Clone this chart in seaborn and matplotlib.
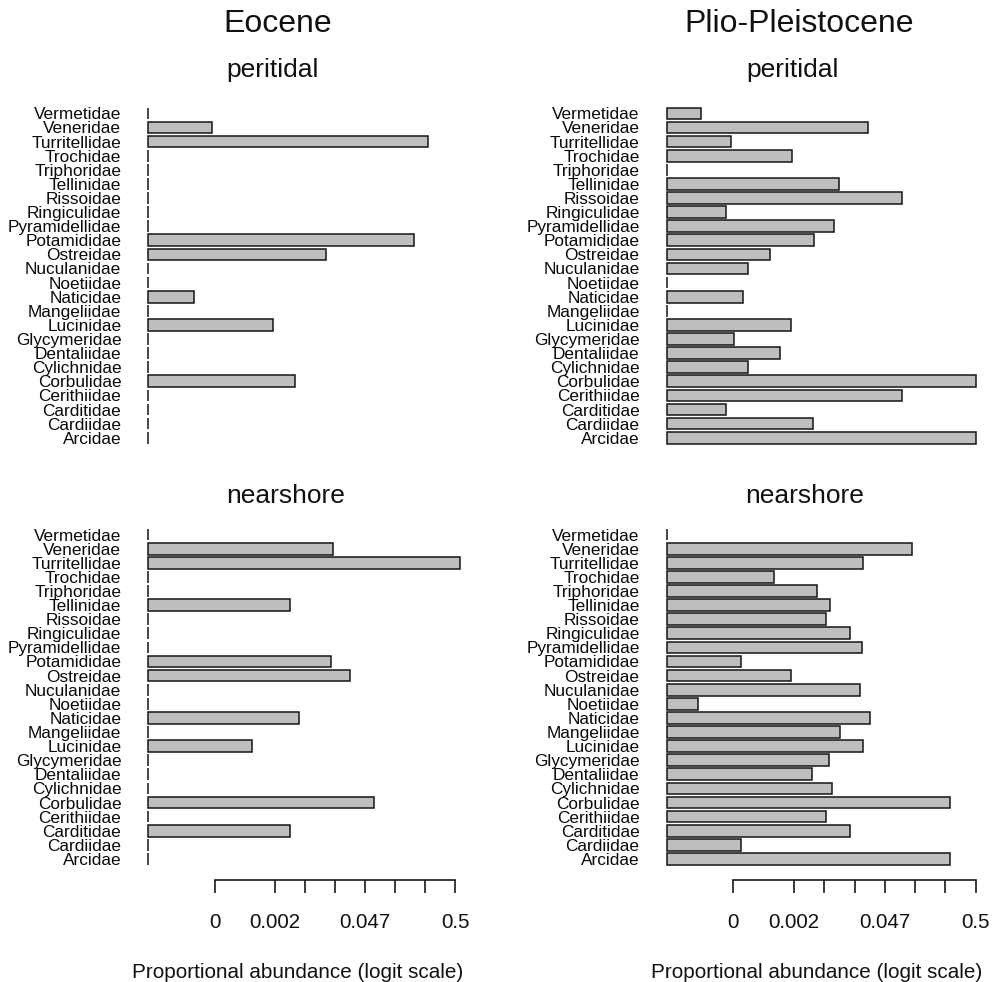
import numpy as np
import matplotlib.pyplot as plt
import seaborn as sns

# --- data: logit(proportional abundance), None = family absent ---
families = ['Vermetidae', 'Veneridae', 'Turritellidae', 'Trochidae', 'Triphoridae',
            'Tellinidae', 'Rissoidae', 'Ringiculidae', 'Pyramidellidae', 'Potamididae',
            'Ostreidae', 'Nuculanidae', 'Noetiidae', 'Naticidae', 'Mangeliidae',
            'Lucinidae', 'Glycymeridae', 'Dentaliidae', 'Cylichnidae', 'Corbulidae',
            'Cerithiidae', 'Carditidae', 'Cardiidae', 'Arcidae']

eocene_peritidal = [None, -8.10, -0.90, None, None, None, None, None, None, -1.36,
                    -4.29, None, None, -8.67, None, -6.05, None, None, None, -5.32,
                    None, None, None, None]
eocene_nearshore = [None, -4.05, 0.16, None, None, -5.49, None, None, None, -4.14,
                    -3.50, None, None, -5.18, None, -6.75, None, None, None, -2.69,
                    None, -5.48, None, None]
plio_peritidal = [-9.08, -3.54, -8.09, -6.06, None, -4.51, -2.45, -8.23, -4.69, -5.35,
                  -6.80, -7.52, None, -7.69, None, -6.11, -7.98, -6.47, -7.53, 0.02,
                  -2.45, -8.23, -5.36, 0.02]
plio_nearshore = [None, -2.11, -3.73, -6.67, -5.25, -4.82, -4.95, -4.16, -3.76, -7.76,
                  -6.11, -3.83, -9.18, -3.49, -4.49, -3.72, -4.83, -5.42, -4.74, -0.85,
                  -4.95, -4.15, -7.76, -0.85]

tick_logit = [-8, -6, -5, -4, -3, -2, -1, 0]
labelled = [-8, -6, -3, 0]
BASE = -10.2  # where the bars start, logit units

sns.set_theme(style="white")
plt.rcParams['font.family'] = ['Liberation Sans', 'DejaVu Sans']
plt.rcParams['text.color'] = '#111111'

W, H = 994, 982
fig = plt.figure(figsize=(W / 100, H / 100), dpi=100)


def px_axes(left, top, width, height):
    return fig.add_axes([left / W, 1 - (top + height) / H, width / W, height / H])


def panel(ax, values, show_axis):
    widths = [0 if v is None else v - BASE for v in values]
    sns.barplot(x=widths, y=families, orient='h', color='#bebebe', saturation=1,
                edgecolor='#151515', linewidth=1.1, width=0.83, errorbar=None, ax=ax)
    ax.set_xlim(-0.5, 10.9)
    ax.set_ylim(24.46, -1.46)
    ax.set_xlabel('')
    ax.set_ylabel('')
    for s in ['top', 'right', 'left']:
        ax.spines[s].set_visible(False)
    ax.tick_params(axis='y', length=0, pad=8.6, labelsize=12.4, labelcolor='#0a0a0a')
    if show_axis:
        ax.spines['bottom'].set_bounds(tick_logit[0] - BASE, tick_logit[-1] - BASE)
        ax.spines['bottom'].set_linewidth(1.2)
        ax.spines['bottom'].set_color('#1a1a1a')
        ax.set_xticks([t - BASE for t in tick_logit])
        lab = []
        for t in tick_logit:
            if t in labelled:
                p = round(1 / (1 + np.exp(-t)), 3)
                lab.append(f"{p:g}")
            else:
                lab.append('')
        ax.set_xticklabels(lab)
        ax.tick_params(axis='x', bottom=True, length=9, width=1.2, color='#1a1a1a',
                       pad=15, labelsize=14.9, labelcolor='#111111', direction='out')
    else:
        ax.spines['bottom'].set_visible(False)
        ax.set_xticks([])


# column geometry in pixels: bar base and px per logit unit
cols = [(148.3, 30.1), (666.7, 30.3)]
rows = [92.8, 514.0]
data = [[eocene_peritidal, plio_peritidal], [eocene_nearshore, plio_nearshore]]

for r, top in enumerate(rows):
    for c, (base_px, scale) in enumerate(cols):
        ax = px_axes(base_px - 0.5 * scale, top, 11.4 * scale, 365.5)
        panel(ax, data[r][c], show_axis=(r == 1))


def ftext(x, y, s, size, ha='left'):
    fig.text(x / W, 1 - y / H, s, fontsize=size, ha=ha, va='baseline', color='#111111')


ftext(223.3, 32.3, 'Eocene', 23)
ftext(684.3, 32.3, 'Plio-Pleistocene', 23)
ftext(226.7, 77.3, 'peritidal', 19)
ftext(746.0, 77.3, 'peritidal', 19)
ftext(226.7, 503.3, 'nearshore', 19)
ftext(745.7, 503.3, 'nearshore', 19)
ftext(298, 978, 'Proportional abundance (logit scale)', 14.9, ha='center')
ftext(817, 978, 'Proportional abundance (logit scale)', 14.9, ha='center')

fig.savefig('out.png', dpi=100, facecolor='white')
